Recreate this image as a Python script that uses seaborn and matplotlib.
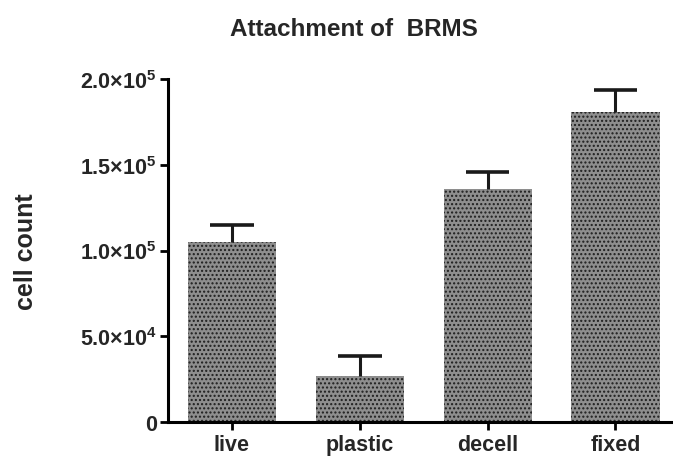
import matplotlib
matplotlib.use("Agg")
import matplotlib.pyplot as plt
import seaborn as sns
import numpy as np
import pandas as pd

categories = ["live", "plastic", "decell", "fixed"]
means = [105000, 27000, 136000, 180500]
errors = [9800, 11300, 10000, 13200]
ytick_values = [0, 50000, 100000, 150000, 200000]
ytick_labels = ["0", r"$5.0{\times}10^{4}$", r"$1.0{\times}10^{5}$", r"$1.5{\times}10^{5}$", r"$2.0{\times}10^{5}$"]

sns.set_theme(style="ticks")
plt.rcParams["font.family"] = ["Liberation Sans", "DejaVu Sans"]
plt.rcParams["font.weight"] = "bold"
plt.rcParams["mathtext.fontset"] = "custom"
plt.rcParams["mathtext.rm"] = "Liberation Sans:bold"
plt.rcParams["mathtext.bf"] = "Liberation Sans:bold"
plt.rcParams["mathtext.default"] = "bf"
plt.rcParams["hatch.color"] = "#1e1e1e"
plt.rcParams["hatch.linewidth"] = 1.0

df = pd.DataFrame({"cat": categories, "val": means})

fig = plt.figure(figsize=(6.73, 4.6), dpi=100)
ax = fig.add_axes([168/673, 37/460, (673-168)/673, (423-80)/460])

sns.barplot(data=df, x="cat", y="val", ax=ax, color="#8e8e8e", width=0.69,
            saturation=1, errorbar=None, linewidth=0)
for p in ax.patches:
    p.set_edgecolor("#1e1e1e")
    p.set_linewidth(0)
    p.set_hatch("....")

xpos = np.arange(len(categories))
tops = np.array(means) + np.array(errors)
ax.vlines(xpos, means, tops, color="#1a1a1a", linewidth=2.2, zorder=3)
ax.hlines(tops, xpos - 0.17, xpos + 0.17, color="#1a1a1a", linewidth=2.6, zorder=3)

ax.set_xlim(-0.5, 3.45)
ax.set_ylim(0, 200000)
ax.set_yticks(ytick_values)
ax.set_yticklabels(ytick_labels)
ax.set_xlabel("")
ax.set_ylabel("cell count", fontsize=18, fontweight="bold")
ax.yaxis.set_label_coords(-0.258, 0.5)
for s in ["top", "right"]:
    ax.spines[s].set_visible(False)
for s in ["left", "bottom"]:
    ax.spines[s].set_linewidth(2.2)
    ax.spines[s].set_color("black")
ax.tick_params(axis="both", length=6, width=2, color="black", labelsize=15.5, pad=2)
for lbl in ax.get_xticklabels():
    lbl.set_fontsize(15.5)
    lbl.set_fontweight("bold")
ax.tick_params(axis="x", pad=3)

fig.text(354/673, 1 - 30/460, "Attachment of  BRMS", ha="center", va="center",
         fontsize=17.5, fontweight="bold")

fig.savefig("out.png", dpi=100)
